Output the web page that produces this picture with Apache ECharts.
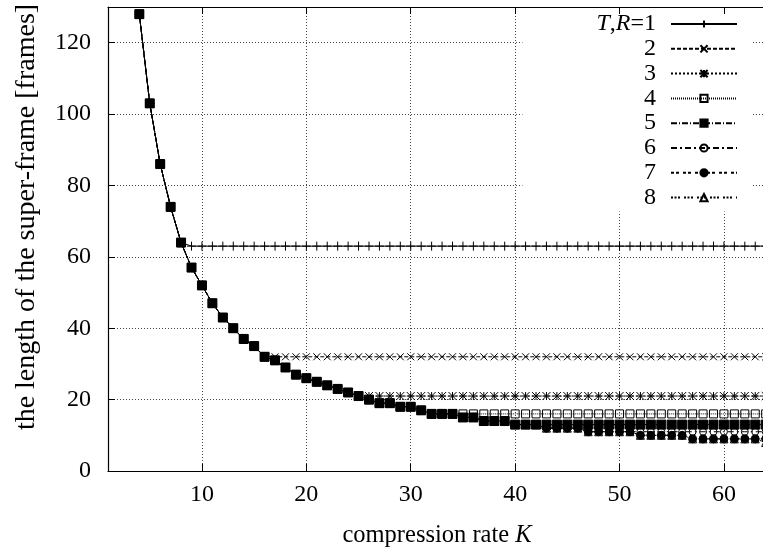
<!DOCTYPE html>
<html>
<head>
<meta charset="utf-8">
<script src="https://cdn.jsdelivr.net/npm/echarts@6/dist/echarts.min.js"></script>
<style>html,body{margin:0;padding:0;background:#fff}#c{width:763px;height:551px}</style>
</head>
<body>
<div id="c"></div>
<script>
// compression rate K
const K = [4,5,6,7,8,9,10,11,12,13,
  14,15,16,17,18,19,20,21,22,23,
  24,25,26,27,28,29,30,31,32,33,
  34,35,36,37,38,39,40,41,42,43,
  44,45,46,47,48,49,50,51,52,53,
  54,55,56,57,58,59,60,61,62,63,
  64];

const seriesNames = ['T,R=1','2','3','4','5','6','7','8'];

const s1 = [128,103,86,74,64,63,63,63,63,63,
  63,63,63,63,63,63,63,63,63,63,
  63,63,63,63,63,63,63,63,63,63,
  63,63,63,63,63,63,63,63,63,63,
  63,63,63,63,63,63,63,63,63,63,
  63,63,63,63,63,63,63,63,63,63,
  63];
const s2 = [128,103,86,74,64,57,52,47,43,40,
  37,35,32,32,32,32,32,32,32,32,
  32,32,32,32,32,32,32,32,32,32,
  32,32,32,32,32,32,32,32,32,32,
  32,32,32,32,32,32,32,32,32,32,
  32,32,32,32,32,32,32,32,32,32,
  32];
const s3 = [128,103,86,74,64,57,52,47,43,40,
  37,35,32,31,29,27,26,25,24,23,
  22,21,21,21,21,21,21,21,21,21,
  21,21,21,21,21,21,21,21,21,21,
  21,21,21,21,21,21,21,21,21,21,
  21,21,21,21,21,21,21,21,21,21,
  21];
const s4 = [128,103,86,74,64,57,52,47,43,40,
  37,35,32,31,29,27,26,25,24,23,
  22,21,20,19,19,18,18,17,16,16,
  16,16,16,16,16,16,16,16,16,16,
  16,16,16,16,16,16,16,16,16,16,
  16,16,16,16,16,16,16,16,16,16,
  16];
const s5 = [128,103,86,74,64,57,52,47,43,40,
  37,35,32,31,29,27,26,25,24,23,
  22,21,20,19,19,18,18,17,16,16,
  16,15,15,14,14,14,13,13,13,13,
  13,13,13,13,13,13,13,13,13,13,
  13,13,13,13,13,13,13,13,13,13,
  13];
const s6 = [128,103,86,74,64,57,52,47,43,40,
  37,35,32,31,29,27,26,25,24,23,
  22,21,20,19,19,18,18,17,16,16,
  16,15,15,14,14,14,13,13,13,12,
  12,12,12,11,11,11,11,11,11,11,
  11,11,11,11,11,11,11,11,11,11,
  11];
const s7 = [128,103,86,74,64,57,52,47,43,40,
  37,35,32,31,29,27,26,25,24,23,
  22,21,20,19,19,18,18,17,16,16,
  16,15,15,14,14,14,13,13,13,12,
  12,12,12,11,11,11,11,11,10,10,
  10,10,10,9,9,9,9,9,9,9,
  9];
const s8 = [128,103,86,74,64,57,52,47,43,40,
  37,35,32,31,29,27,26,25,24,23,
  22,21,20,19,19,18,18,17,16,16,
  16,15,15,14,14,14,13,13,13,12,
  12,12,12,11,11,11,11,11,10,10,
  10,10,10,9,9,9,9,9,9,9,
  8];

const xTicks = [10,20,30,40,50,60];
const yTicks = [0,20,40,60,80,100,120];

const FONT = 'Liberation Serif';
const allValues = [s1,s2,s3,s4,s5,s6,s7,s8];

const styles = [
  {symbol:'path://M0,5L10,5M5,0L5,10', size:9, fill:'rgba(0,0,0,0)', dash:'solid'},
  {symbol:'path://M0,0L10,10M10,0L0,10', size:7, fill:'rgba(0,0,0,0)', dash:[4,2]},
  {symbol:'path://M0,0L10,10M10,0L0,10M0,5L10,5M5,0L5,10', size:8, fill:'rgba(0,0,0,0)', dash:[2,2]},
  {symbol:'rect', size:8, fill:'rgba(0,0,0,0)', dash:[1,1]},
  {symbol:'rect', size:9, fill:'#000', dash:[6,2,1,2]},
  {symbol:'circle', size:7, fill:'rgba(0,0,0,0)', dash:[6,3,2,3]},
  {symbol:'circle', size:8, fill:'#000', dash:[3,2,3,4]},
  {symbol:'triangle', size:8, fill:'rgba(0,0,0,0)', dash:[2,1.5,2,1.5,2,4]}
];

const series = allValues.map((vals, i) => ({
  name: seriesNames[i],
  type: 'line',
  data: K.map((k, j) => [k, vals[j]]),
  symbol: styles[i].symbol,
  symbolSize: styles[i].size,
  showSymbol: true,
  showAllSymbol: true,
  color: '#000',
  itemStyle: {color: styles[i].fill, borderColor: '#000', borderWidth: 1},
  lineStyle: {color: '#000', width: 1, type: styles[i].dash},
  emphasis: {disabled: true},
  animation: false
}));

const chart = echarts.init(document.getElementById('c'), null, {renderer: 'canvas'});
chart.setOption({
  backgroundColor: '#fff',
  animation: false,
  grid: {left: 108, top: 7, bottom: 80, width: 658, containLabel: false, outerBoundsMode: 'none'},
  xAxis: [{
    type: 'value', min: 1, max: 64.03, splitNumber: 6,
    name: 'compression rate {i|K}', nameLocation: 'middle', nameGap: 52,
    nameTextStyle: {fontFamily: FONT, fontSize: 24.5, color: '#000',
      rich: {i: {fontFamily: FONT, fontSize: 24.5, fontStyle: 'italic', color: '#000'}}},
    axisLine: {onZero: false, lineStyle: {color: '#000', width: 1.2}},
    axisTick: {inside: true, length: 7, lineStyle: {color: '#000'}},
    axisLabel: {margin: 12, fontFamily: FONT, fontSize: 24, color: '#000',
      formatter: v => xTicks.indexOf(v) >= 0 ? String(v) : ''},
    splitLine: {show: true, lineStyle: {color: '#444', width: 1, type: [1, 2]}}
  }, {
    type: 'value', position: 'top', min: 1, max: 64.03, splitNumber: 6, z: 10,
    axisLine: {onZero: false, lineStyle: {color: '#000', width: 1.2}},
    axisTick: {inside: true, length: 7, lineStyle: {color: '#000'}},
    axisLabel: {show: false},
    splitLine: {show: false}
  }],
  yAxis: [{
    type: 'value', min: 0, max: 130, interval: 20,
    axisLine: {show: true, onZero: false, lineStyle: {color: '#000', width: 1.2}},
    axisTick: {show: true, inside: true, length: 7, lineStyle: {color: '#000'}},
    axisLabel: {margin: 17, fontFamily: FONT, fontSize: 24, color: '#000',
      formatter: v => yTicks.indexOf(v) >= 0 ? String(v) : ''},
    splitLine: {show: true, lineStyle: {color: '#444', width: 1, type: [1, 2]}}
  }],
  legend: {
    data: seriesNames,
    orient: 'vertical', align: 'right',
    right: 10, top: 7,
    padding: [5, 15, 2, 74],
    backgroundColor: '#fff',
    itemWidth: 66, itemHeight: 9, itemGap: 0.8,
    selectedMode: false,
    formatter: name => name === 'T,R=1' ? '{i|T},{i|R}=1' : name,
    textStyle: {fontFamily: FONT, fontSize: 24, lineHeight: 24, color: '#000', padding: [0, 10, 0, 0],
      rich: {i: {fontFamily: FONT, fontSize: 24, lineHeight: 24, fontStyle: 'italic', color: '#000'}}}
  },
  graphic: [{
    type: 'text', x: 27, y: 217, rotation: Math.PI / 2,
    style: {text: 'the length of the super-frame [frames]', font: '28px "Liberation Serif"',
      fill: '#000', align: 'center', verticalAlign: 'middle'}
  }],
  series: series
});
</script>
</body>
</html>
